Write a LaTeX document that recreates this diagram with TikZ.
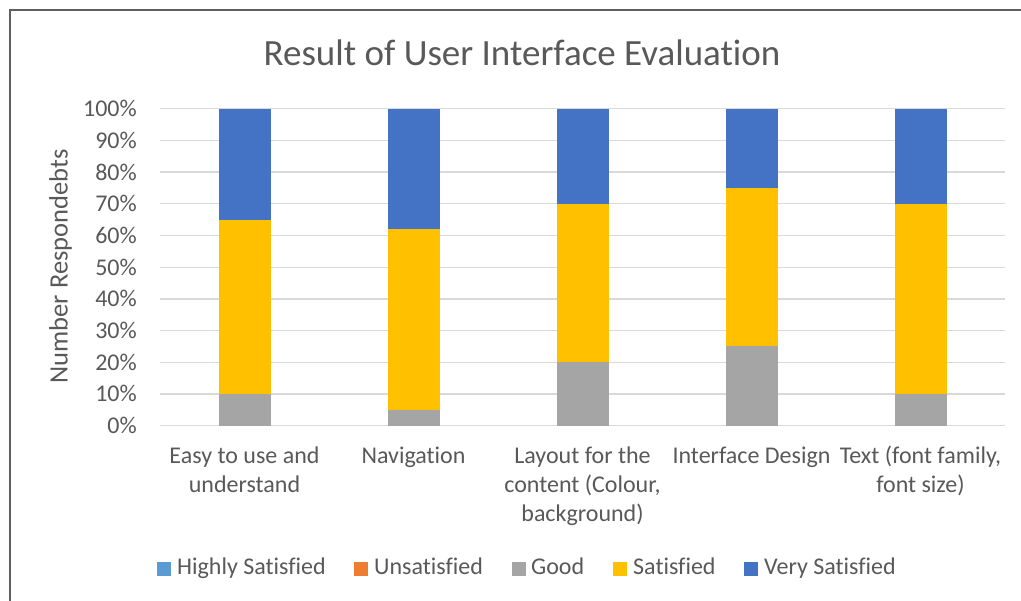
\documentclass[tikz,border=0pt]{standalone}
\usepackage{fontspec}
\setmainfont{Carlito}[Ligatures=NoCommon]
\definecolor{txt}{HTML}{595959}
\definecolor{grid}{HTML}{D9D9D9}
\definecolor{frame}{HTML}{5F5F5F}
\definecolor{cHigh}{HTML}{5B9BD5}
\definecolor{cUns}{HTML}{ED7D31}
\definecolor{cGood}{HTML}{A5A5A5}
\definecolor{cSat}{HTML}{FFC000}
\definecolor{cVery}{HTML}{4472C4}
\tikzset{
  lbl/.style={text=txt, inner sep=0pt, font=\fontsize{24}{29}\selectfont},
  axttl/.style={text=txt, inner sep=0pt, font=\fontsize{26.5}{32}\selectfont},
  ttl/.style={text=txt, inner sep=0pt, font=\fontsize{37}{44}\selectfont},
  gridline/.style={draw=grid, line width=1.3pt},
  swatch/.style={inner sep=0pt, minimum width=14pt, minimum height=14pt},
}
% y position of a percentage value
\newcommand{\pc}[1]{425.7-3.17*#1}
% one stacked bar: centre x, good top, satisfied top
\newcommand{\stackbar}[3]{%
  \fill[cGood] (#1-26,{\pc{0}}) rectangle (#1+26,{\pc{#2}});
  \fill[cSat]  (#1-26,{\pc{#2}}) rectangle (#1+26,{\pc{#3}});
  \fill[cVery] (#1-26,{\pc{#3}}) rectangle (#1+26,{\pc{100}});
}
\begin{document}
\begin{tikzpicture}[x=1pt,y=-1pt]
\useasboundingbox (0,0) rectangle (1021,601);
\fill[white] (0,0) rectangle (1021,601);
% chart frame
\draw[frame, line width=1.2pt] (10,601) -- (10,10) -- (1021,10);

% title
\node[ttl, anchor=base] (title) at (522,66) {Result of User Interface Evaluation};

% gridlines and tick labels
\foreach \k in {0,10,...,100}{
  \draw[gridline] (160,{\pc{\k}}) -- (1005,{\pc{\k}});
  \node[lbl, anchor=base east] (tick\k) at (137,{\pc{\k}+8}) {\k\%};
}

% axis title
\node[axttl, rotate=90, anchor=base] (ytitle) at (67.5,266.5) {Number Respondebts};

% bars
\stackbar{244.5}{10}{65}
\stackbar{413.5}{5}{62}
\stackbar{582.5}{20}{70}
\stackbar{751.5}{25}{75}
\stackbar{920.5}{10}{70}

% category labels
\node[lbl, anchor=base] (c1a) at (244.5,464) {Easy to use and};
\node[lbl, anchor=base] (c1b) at (244.5,493) {understand};
\node[lbl, anchor=base] (c2a) at (413.5,464) {Navigation};
\node[lbl, anchor=base] (c3a) at (582.5,464) {Layout for the};
\node[lbl, anchor=base] (c3b) at (582.5,493) {content (Colour,};
\node[lbl, anchor=base] (c3c) at (582.5,522) {background)};
\node[lbl, anchor=base] (c4a) at (751.5,464) {Interface Design};
\node[lbl, anchor=base] (c5a) at (920.5,464) {Text (font family,};
\node[lbl, anchor=base] (c5b) at (920.5,493) {font size)};

% legend
\node[swatch, fill=cHigh] (sw1) at (164,569) {};
\node[lbl, anchor=base west] (lg1) at (177,575) {Highly Satisfied};
\node[swatch, fill=cUns] (sw2) at (361,569) {};
\node[lbl, anchor=base west] (lg2) at (374,575) {Unsatisfied};
\node[swatch, fill=cGood] (sw3) at (519,569) {};
\node[lbl, anchor=base west] (lg3) at (531,575) {Good};
\node[swatch, fill=cSat] (sw4) at (620,569) {};
\node[lbl, anchor=base west] (lg4) at (633,575) {Satisfied};
\node[swatch, fill=cVery] (sw5) at (751,569) {};
\node[lbl, anchor=base west] (lg5) at (764,575) {Very Satisfied};
\end{tikzpicture}
\end{document}
